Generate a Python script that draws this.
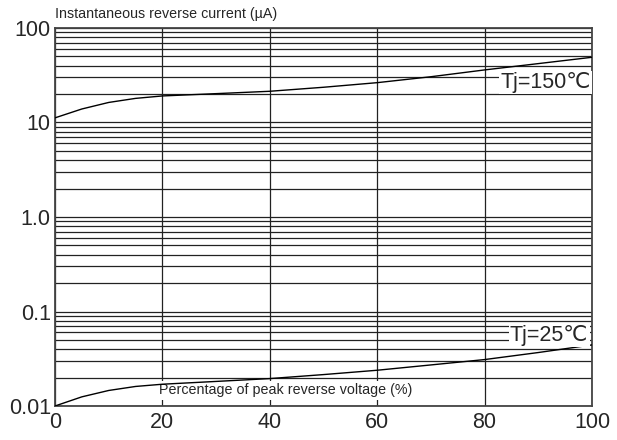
import numpy as np, pandas as pd, matplotlib
matplotlib.use('Agg')
import matplotlib.pyplot as plt, seaborn as sns
from matplotlib.ticker import FixedLocator, LogLocator, NullFormatter

# datos
pct = [0, 5, 10, 15, 20, 30, 40, 50, 60, 70, 80, 90, 100]
ir_150 = [11.2, 13.9, 16.3, 18.0, 19.1, 20.2, 21.4, 23.6, 26.4, 30.5, 36.0, 42.0, 49.0]
ir_25 = [0.0100, 0.0125, 0.0146, 0.0161, 0.0170, 0.0182, 0.0195, 0.0215, 0.0239, 0.0272, 0.0310, 0.0368, 0.0443]
yticks = [0.01, 0.1, 1, 10, 100]
yticklabels = ['0.01', '0.1', '1.0', '10', '100']
xticks = [0, 20, 40, 60, 80, 100]

df = pd.DataFrame({'pct': pct * 2, 'ir': ir_150 + ir_25,
                   'Tj': ['150'] * len(pct) + ['25'] * len(pct)})

sns.set_style('white')
plt.rcParams['font.family'] = ['Liberation Sans', 'DejaVu Sans']

fig = plt.figure(figsize=(6.17, 4.40), dpi=100)
ax = fig.add_axes([55/617, 1 - 406/440, 537/617, 378/440])

sns.lineplot(data=df, x='pct', y='ir', units='Tj', estimator=None, color='black',
             lw=1.0, ax=ax, zorder=5)

ax.set_yscale('log')
ax.set_xlim(0, 100); ax.set_ylim(0.01, 100)
ax.yaxis.set_major_locator(FixedLocator(yticks))
ax.set_yticklabels(yticklabels)
ax.yaxis.set_minor_locator(LogLocator(base=10, subs=np.arange(2, 10)))
ax.yaxis.set_minor_formatter(NullFormatter())
ax.set_xticks(xticks)
ax.tick_params(axis='both', which='both', length=0, labelsize=15.5)
ax.tick_params(axis='x', pad=4); ax.tick_params(axis='y', pad=3)
ax.grid(True, which='both', axis='y', color='#222222', lw=0.9)
ax.grid(True, which='major', axis='x', color='#222222', lw=0.9)
for s in ax.spines.values():
    s.set_color('#444444'); s.set_linewidth(1.3)
ax.set_xlabel(''); ax.set_ylabel('')

caja = dict(facecolor='white', edgecolor='none', pad=1)
ax.text(99.8, 26.5, 'Tj=150℃', ha='right', va='center', fontsize=15.5, bbox=caja, zorder=6)
ax.text(99.3, 0.056, 'Tj=25℃', ha='right', va='center', fontsize=15.5, bbox=caja, zorder=6)
ax.text(42.9, 0.0146, 'Percentage of peak reverse voltage (%)', ha='center', va='center',
        fontsize=10.3, bbox=dict(facecolor='white', edgecolor='none', pad=2), zorder=4)
fig.text(55/617, 1 - 14/440, 'Instantaneous reverse current (µA)', ha='left', va='center', fontsize=10.3)

fig.savefig('out.png', dpi=100)
